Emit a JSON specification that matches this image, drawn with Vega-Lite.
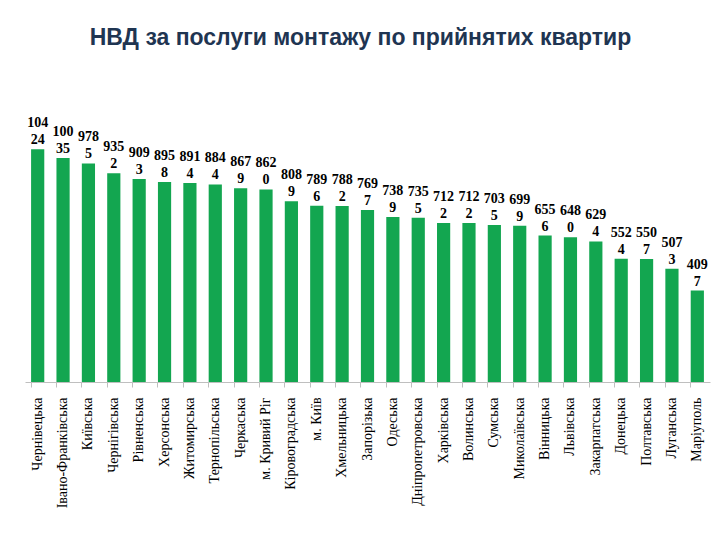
{
  "$schema": "https://vega.github.io/schema/vega-lite/v6.json",
  "width": 685,
  "height": 268,
  "autosize": {"type": "none"},
  "padding": {"left": 25, "top": 114, "right": 10, "bottom": 158},
  "background": "white",
  "title": {
    "text": "НВД за послуги монтажу по прийнятих квартир",
    "font": "Liberation Sans",
    "fontSize": 23,
    "fontWeight": "bold",
    "color": "#1F3552",
    "anchor": "middle",
    "frame": "group",
    "offset": 64,
    "dx": -7
  },
  "data": {
    "values": [
      {"region": "Чернівецька", "value": 10424},
      {"region": "Івано-Франківська", "value": 10035},
      {"region": "Київська", "value": 9785},
      {"region": "Чернігівська", "value": 9352},
      {"region": "Рівненська", "value": 9093},
      {"region": "Херсонська", "value": 8958},
      {"region": "Житомирська", "value": 8914},
      {"region": "Тернопільська", "value": 8844},
      {"region": "Черкаська", "value": 8679},
      {"region": "м. Кривий Ріг", "value": 8620},
      {"region": "Кіровоградська", "value": 8089},
      {"region": "м. Київ", "value": 7896},
      {"region": "Хмельницька", "value": 7882},
      {"region": "Запорізька", "value": 7697},
      {"region": "Одеська", "value": 7389},
      {"region": "Дніпропетровська", "value": 7355},
      {"region": "Харківська", "value": 7122},
      {"region": "Волинська", "value": 7122},
      {"region": "Сумська", "value": 7035},
      {"region": "Миколаївська", "value": 6999},
      {"region": "Вінницька", "value": 6556},
      {"region": "Львівська", "value": 6480},
      {"region": "Закарпатська", "value": 6294},
      {"region": "Донецька", "value": 5524},
      {"region": "Полтавська", "value": 5507},
      {"region": "Луганська", "value": 5073},
      {"region": "Маріуполь", "value": 4097}
    ]
  },
  "transform": [
    {"calculate": "[substring(toString(datum.value), 0, 3), substring(toString(datum.value), 3)]", "as": "label"}
  ],
  "encoding": {
    "x": {
      "field": "region",
      "type": "nominal",
      "sort": null,
      "scale": {"paddingInner": 0.48, "paddingOuter": 0.24},
      "axis": {
        "title": null,
        "labelAngle": -90,
        "labelAlign": "right",
        "labelBaseline": "middle",
        "labelFont": "Liberation Serif",
        "labelFontSize": 14,
        "labelColor": "#000000",
        "labelPadding": 10,
        "labelLimit": 200,
        "bandPosition": 0,
        "tickColor": "#BFBFBF",
        "tickSize": 5,
        "domainColor": "#BFBFBF",
        "domainWidth": 1
      }
    },
    "y": {
      "field": "value",
      "type": "quantitative",
      "scale": {"domain": [0, 12000], "nice": false},
      "axis": null
    }
  },
  "layer": [
    {"mark": {"type": "bar", "color": "#13A650"}},
    {
      "mark": {
        "type": "text",
        "font": "Liberation Serif",
        "fontSize": 14,
        "fontWeight": "bold",
        "color": "#000000",
        "baseline": "bottom",
        "lineHeight": 17,
        "dy": -19
      },
      "encoding": {"text": {"field": "label"}}
    }
  ],
  "config": {"view": {"stroke": null}}
}
